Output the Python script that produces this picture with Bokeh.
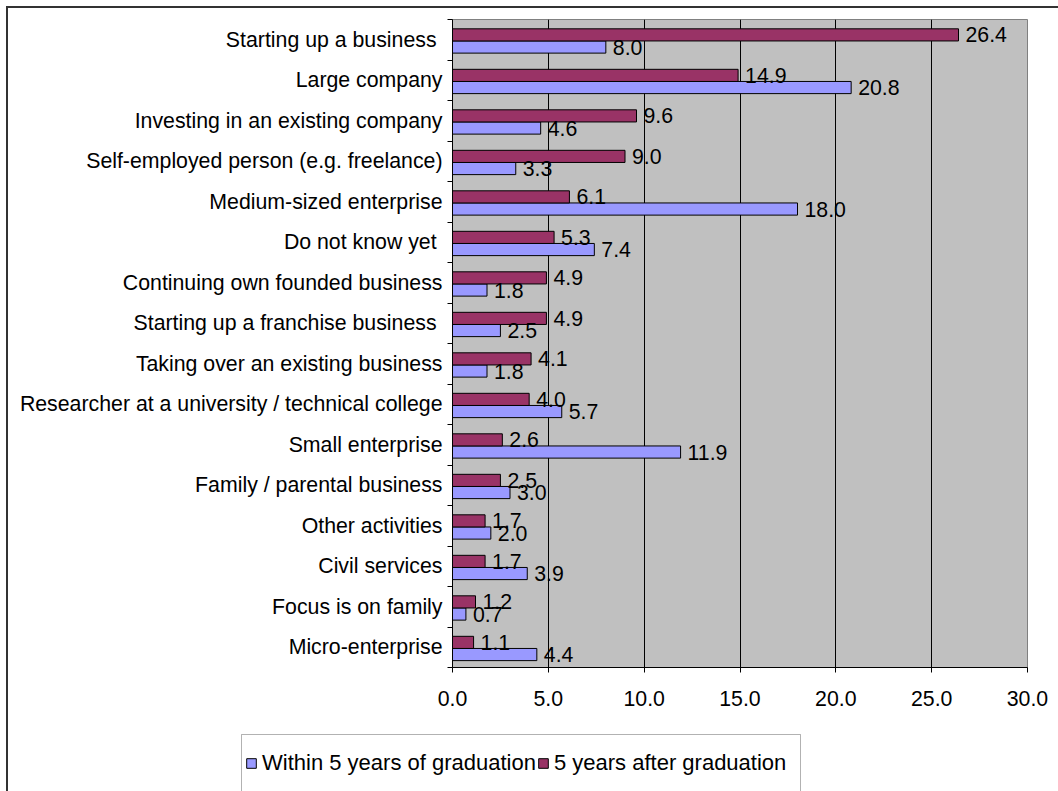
from bokeh.plotting import figure
from bokeh.layouts import column
from bokeh.models import (ColumnDataSource, Range1d, FixedTicker, Legend, LegendItem,
                          BoxAnnotation, NumeralTickFormatter)
from bokeh.core.properties import value
from bokeh.embed import file_html
from bokeh.resources import INLINE

categories = [
    "Starting up a business ",
    "Large company",
    "Investing in an existing company",
    "Self-employed person (e.g. freelance)",
    "Medium-sized enterprise",
    "Do not know yet ",
    "Continuing own founded business",
    "Starting up a franchise business ",
    "Taking over an existing business",
    "Researcher at a university / technical college",
    "Small enterprise",
    "Family / parental business",
    "Other activities",
    "Civil services",
    "Focus is on family",
    "Micro-enterprise",
]
within_5_years = [8.0, 20.8, 4.6, 3.3, 18.0, 7.4, 1.8, 2.5, 1.8, 5.7, 11.9, 3.0, 2.0, 3.9, 0.7, 4.4]
after_5_years = [26.4, 14.9, 9.6, 9.0, 6.1, 5.3, 4.9, 4.9, 4.1, 4.0, 2.6, 2.5, 1.7, 1.7, 1.2, 1.1]
x_ticks = [0, 5, 10, 15, 20, 25, 30]
series_names = ["Within 5 years of graduation", "5 years after graduation"]

FONT = "Liberation Sans"
FS = "21.3px"
COL_W = "#9999FF"
COL_A = "#993366"
n = len(categories)
centers = [n - i - 0.5 for i in range(n)]

src_w = ColumnDataSource(dict(
    y=[c - 0.18 for c in centers], v=within_5_years,
    lab=["%.1f" % v for v in within_5_years]))
src_a = ColumnDataSource(dict(
    y=[c + 0.12 for c in centers], v=after_5_years,
    lab=["%.1f" % v for v in after_5_years]))

# page is offset by 8px (6px margin + 2px border) through the wrapping column
p = figure(width=1050, height=719, output_backend="svg", toolbar_location=None,
           x_range=Range1d(0, 30), y_range=Range1d(0, n))
p.frame_align = False
p.min_border_left = 444
p.min_border_right = 31
p.min_border_top = 11
p.min_border_bottom = 60
p.background_fill_color = "#C0C0C0"
p.border_fill_color = "white"
p.outline_line_color = "#808080"
p.outline_line_width = 1

rw = p.hbar(y="y", right="v", left=0, height=0.3, source=src_w,
            fill_color=COL_W, line_color="#000000", line_width=1)
ra = p.hbar(y="y", right="v", left=0, height=0.3, source=src_a,
            fill_color=COL_A, line_color="#000000", line_width=1)

for src in (src_w, src_a):
    p.text(x="v", y="y", text="lab", source=src, x_offset=7,
           text_baseline="middle", text_align="left",
           text_font=value(FONT), text_font_size=FS, text_color="#000000")

# x axis
p.xaxis.ticker = FixedTicker(ticks=x_ticks)
p.xaxis.formatter = NumeralTickFormatter(format="0.0")
p.xaxis.major_label_text_font = FONT
p.xaxis.major_label_text_font_size = FS
p.xaxis.major_label_text_color = "#000000"
p.xaxis.axis_line_color = "#000000"
p.xaxis.major_tick_line_color = "#000000"
p.xaxis.major_tick_out = 5
p.xaxis.major_tick_in = 0
p.xaxis.minor_tick_line_color = None
p.xaxis.major_label_standoff = 18

# y axis: labels at category centers, ticks at category boundaries
p.yaxis.ticker = FixedTicker(ticks=centers, minor_ticks=list(range(n + 1)))
p.yaxis.major_label_overrides = {c: categories[i] for i, c in enumerate(centers)}
p.yaxis.major_label_text_font = FONT
p.yaxis.major_label_text_font_size = FS
p.yaxis.major_label_text_color = "#000000"
p.yaxis.major_tick_line_color = None
p.yaxis.major_tick_out = 0
p.yaxis.major_tick_in = 0
p.yaxis.minor_tick_line_color = "#000000"
p.yaxis.minor_tick_out = 5
p.yaxis.minor_tick_in = 0
p.yaxis.axis_line_color = "#000000"
p.yaxis.major_label_standoff = 5

p.xgrid.ticker = FixedTicker(ticks=x_ticks[1:-1])
p.xgrid.grid_line_color = "#000000"
p.xgrid.grid_line_width = 1
p.ygrid.grid_line_color = None

# legend strip below the chart (its frame covers the whole strip)
p2 = figure(width=1050, height=64, output_backend="svg", toolbar_location=None,
            x_range=Range1d(0, 1050), y_range=Range1d(64, 0),
            x_axis_location=None, y_axis_location=None,
            min_border=0)
p2.frame_align = False
p2.min_border_left = 0
p2.min_border_right = 0
p2.min_border_top = 0
p2.min_border_bottom = 0
p2.outline_line_color = None
p2.grid.grid_line_color = None
p2.background_fill_color = "white"
p2.border_fill_color = "white"

# proxy glyphs (outside the visible strip) that only feed the legend swatches
lw = p2.quad(left=[-450], right=[-400], bottom=[-500], top=[-490],
             fill_color=COL_W, line_color="#000000", line_width=1)
la = p2.quad(left=[-450], right=[-400], bottom=[-500], top=[-490],
             fill_color=COL_A, line_color="#000000", line_width=1)

legend_box = BoxAnnotation(left=233, right=792, top=7, bottom=200,
                           fill_alpha=0, line_color="#000000", line_width=1)
p2.add_layout(legend_box)

legend = Legend(items=[LegendItem(label=series_names[0], renderers=[lw], index=0),
                       LegendItem(label=series_names[1], renderers=[la], index=0)],
                orientation="horizontal", location=(237, 15),
                label_text_font=FONT, label_text_font_size="22px",
                label_text_color="#000000",
                glyph_width=12, glyph_height=12, label_standoff=5, spacing=1,
                padding=6, margin=0, label_height=22,
                border_line_color=None, background_fill_alpha=0)
p2.add_layout(legend, "center")

layout = column(p, p2, spacing=0,
                styles={"margin-left": "6px", "margin-top": "6px",
                        "border-left": "2px solid #333333",
                        "border-top": "2px solid #333333"})

open("out.html", "w").write(file_html(layout, INLINE))
